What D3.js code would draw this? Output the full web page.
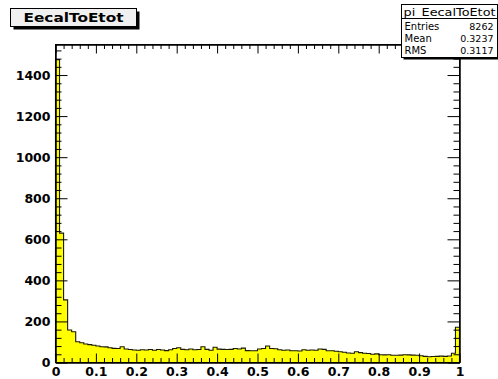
<!DOCTYPE html>
<html>
<head>
<meta charset="utf-8">
<script src="https://cdn.jsdelivr.net/npm/d3@7"></script>
<style>
  body { margin: 0; background: #ffffff; }
  svg text { font-family: "DejaVu Sans", "Liberation Sans", sans-serif; }
</style>
</head>
<body>
<svg id="chart" width="498" height="379"></svg>
<script>
// Histogram contents: 100 bins of EecalToEtot between 0 and 1
const binCounts = [
  1475, 630, 305, 158, 150, 101, 96, 90, 87, 84,
  80, 77, 76, 72, 69, 68, 77, 66, 63, 61,
  60, 62, 61, 63, 60, 63, 61, 58, 62, 68,
  72, 64, 62, 66, 62, 63, 77, 64, 60, 74,
  65, 64, 63, 64, 68, 66, 70, 58, 57, 57,
  66, 68, 80, 68, 67, 62, 60, 61, 57, 57,
  56, 62, 60, 61, 60, 66, 64, 57, 57, 55,
  52, 50, 46, 45, 52, 48, 45, 44, 40, 42,
  38, 37, 38, 35, 35, 36, 38, 37, 36, 35,
  33, 30, 28, 29, 30, 31, 30, 32, 45, 172
];
const xRange = [0, 1];
const xTickValues = [0, 0.1, 0.2, 0.3, 0.4, 0.5, 0.6, 0.7, 0.8, 0.9, 1];
const xTickLabels = ["0", "0.1", "0.2", "0.3", "0.4", "0.5", "0.6", "0.7", "0.8", "0.9", "1"];
const yTickValues = [0, 200, 400, 600, 800, 1000, 1200, 1400];
const yTickLabels = ["0", "200", "400", "600", "800", "1000", "1200", "1400"];

const histTitle = "EecalToEtot";
const statsName = "pi_EecalToEtot";
const statsLabels = ["Entries", "Mean", "RMS"];
const statsValues = ["8262", "0.3237", "0.3117"];

// Frame geometry
const frame = { left: 55.5, right: 459.5, top: 44.5, bottom: 362.5 };

const svg = d3.select("#chart");

const nBins = binCounts.length;
const x = d3.scaleLinear().domain(xRange).range([frame.left, frame.right]);
const y = d3.scaleLinear()
  .domain([0, d3.max(binCounts) * 1.05])
  .range([frame.bottom, frame.top]);

// Frame background
svg.append("rect")
  .attr("x", frame.left).attr("y", frame.top)
  .attr("width", frame.right - frame.left)
  .attr("height", frame.bottom - frame.top)
  .attr("fill", "#ffffff");

// Histogram as a filled step outline
const binWidth = (xRange[1] - xRange[0]) / nBins;
const steps = binCounts.map((c, i) => ({ x: xRange[0] + i * binWidth, c }));
steps.push({ x: xRange[1], c: binCounts[nBins - 1] });

const area = d3.area()
  .x(d => x(d.x))
  .y0(y(0))
  .y1(d => y(d.c))
  .curve(d3.curveStepAfter);

svg.append("path")
  .datum(steps)
  .attr("d", area)
  .attr("fill", "#ffff00")
  .attr("stroke", "#1a1a00")
  .attr("stroke-width", 1.1);

// Minor tick values
const xMinor = d3.range(0, 51).map(i => i * 0.02).filter(v => Math.abs(v * 10 - Math.round(v * 10)) > 1e-6);
const yMinor = d3.range(0, 39).map(i => i * 40).filter(v => v % 200 !== 0);

function styleAxis(g) {
  g.selectAll("path.domain").attr("stroke", "#000").attr("stroke-width", 1);
  g.selectAll("line").attr("stroke", "#000").attr("stroke-width", 1);
}

// Bottom axis (ticks pointing inward)
const gx = svg.append("g").attr("transform", `translate(0,${frame.bottom})`)
  .call(d3.axisBottom(x).tickValues(xTickValues)
    .tickFormat((d, i) => xTickLabels[i])
    .tickSizeInner(-9).tickSizeOuter(0).tickPadding(5));
gx.selectAll("text")
  .attr("font-size", "12.5px").attr("font-weight", "bold").attr("fill", "#000");
svg.append("g").attr("transform", `translate(0,${frame.bottom})`)
  .call(d3.axisBottom(x).tickValues(xMinor).tickFormat("").tickSizeInner(-4.5).tickSizeOuter(0))
  .call(styleAxis);
styleAxis(gx);

// Top axis
svg.append("g").attr("transform", `translate(0,${frame.top})`)
  .call(d3.axisTop(x).tickValues(xTickValues).tickFormat("").tickSizeInner(-9).tickSizeOuter(0))
  .call(styleAxis);
svg.append("g").attr("transform", `translate(0,${frame.top})`)
  .call(d3.axisTop(x).tickValues(xMinor).tickFormat("").tickSizeInner(-4.5).tickSizeOuter(0))
  .call(styleAxis);

// Left axis
const gy = svg.append("g").attr("transform", `translate(${frame.left},0)`)
  .call(d3.axisLeft(y).tickValues(yTickValues)
    .tickFormat((d, i) => yTickLabels[i])
    .tickSizeInner(-12).tickSizeOuter(0).tickPadding(5));
gy.selectAll("text")
  .attr("font-size", "12.5px").attr("font-weight", "bold").attr("fill", "#000");
styleAxis(gy);
svg.append("g").attr("transform", `translate(${frame.left},0)`)
  .call(d3.axisLeft(y).tickValues(yMinor).tickFormat("").tickSizeInner(-6).tickSizeOuter(0))
  .call(styleAxis);

// Right axis
svg.append("g").attr("transform", `translate(${frame.right},0)`)
  .call(d3.axisRight(y).tickValues(yTickValues).tickFormat("").tickSizeInner(-12).tickSizeOuter(0))
  .call(styleAxis);
svg.append("g").attr("transform", `translate(${frame.right},0)`)
  .call(d3.axisRight(y).tickValues(yMinor).tickFormat("").tickSizeInner(-6).tickSizeOuter(0))
  .call(styleAxis);

// Frame border
svg.append("rect")
  .attr("x", frame.left).attr("y", frame.top)
  .attr("width", frame.right - frame.left)
  .attr("height", frame.bottom - frame.top)
  .attr("fill", "none").attr("stroke", "#000").attr("stroke-width", 1);

// Title box with drop shadow
const tb = { x: 10.5, y: 8.5, w: 126, h: 18 };
svg.append("rect")
  .attr("x", tb.x + 3).attr("y", tb.y + 3).attr("width", tb.w).attr("height", tb.h)
  .attr("fill", "#000");
svg.append("rect")
  .attr("x", tb.x).attr("y", tb.y).attr("width", tb.w).attr("height", tb.h)
  .attr("fill", "#f0f0f0").attr("stroke", "#000").attr("stroke-width", 1);
svg.append("text")
  .attr("x", tb.x + tb.w / 2).attr("y", tb.y + 13.5)
  .attr("text-anchor", "middle")
  .attr("font-family", "Liberation Sans, Arial, sans-serif")
  .attr("font-size", "12.5px").attr("font-weight", "bold")
  .attr("textLength", 100).attr("lengthAdjust", "spacingAndGlyphs")
  .text(histTitle);

// Statistics box
const sb = { x: 401.5, y: 4.5, w: 96, h: 53 };
svg.append("rect")
  .attr("x", sb.x + 2).attr("y", sb.y + 2).attr("width", sb.w).attr("height", sb.h)
  .attr("fill", "#000");
svg.append("rect")
  .attr("x", sb.x).attr("y", sb.y).attr("width", sb.w).attr("height", sb.h)
  .attr("fill", "#ffffff").attr("stroke", "#000").attr("stroke-width", 1);
svg.append("line")
  .attr("x1", sb.x).attr("x2", sb.x + sb.w)
  .attr("y1", sb.y + 14).attr("y2", sb.y + 14)
  .attr("stroke", "#000");
svg.append("text")
  .attr("x", sb.x + 2).attr("y", sb.y + 11)
  .attr("font-size", "10.5px")
  .attr("font-family", "Liberation Sans, Arial, sans-serif")
  .attr("textLength", 92).attr("lengthAdjust", "spacingAndGlyphs")
  .text(statsName);
statsLabels.forEach((lab, i) => {
  const ty = sb.y + 25 + i * 12;
  svg.append("text")
    .attr("x", sb.x + 3).attr("y", ty)
    .attr("font-size", "10px")
    .attr("font-family", "Liberation Sans, Arial, sans-serif")
    .text(lab);
  svg.append("text")
    .attr("x", sb.x + sb.w - 4).attr("y", ty)
    .attr("text-anchor", "end")
    .attr("font-size", "9.5px")
    .attr("font-family", "Liberation Sans, Arial, sans-serif")
    .text(statsValues[i]);
});
</script>
</body>
</html>
